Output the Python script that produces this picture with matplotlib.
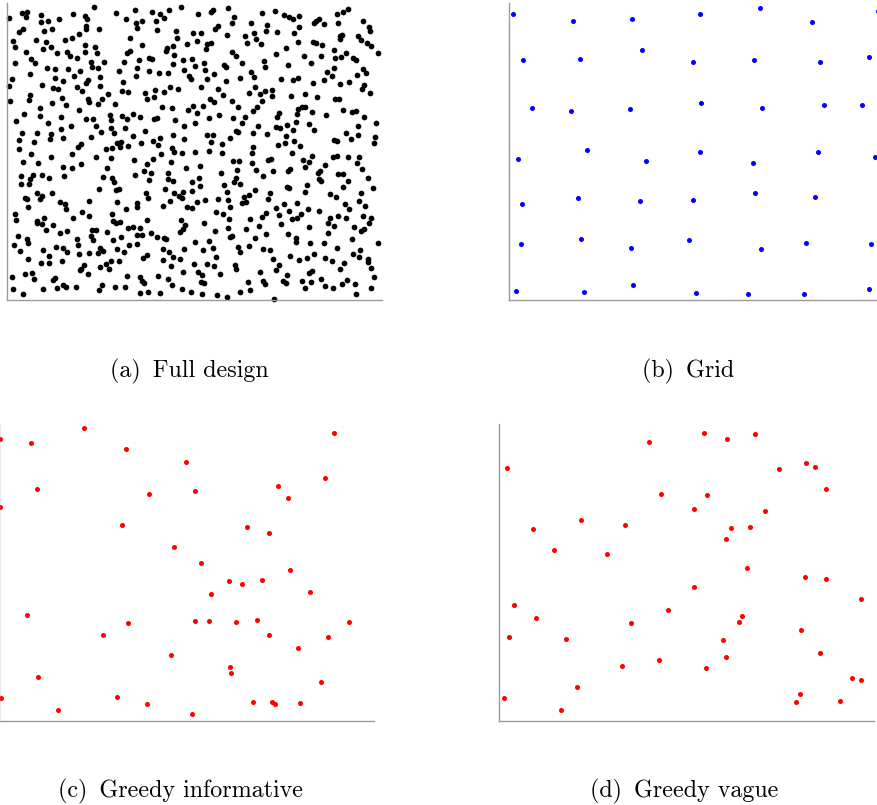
import numpy as np
import matplotlib.pyplot as plt

# Design points (x across 0..375, y up 0..297)
FULL_DESIGN = [
    (87, 293), (15, 287), (20, 288), (19, 283), (34, 285), (2, 282), (66, 286), (78, 284),
    (80, 281), (52, 281), (41, 279), (34, 278), (109, 287), (128, 290), (145, 288), (153, 286),
    (157, 282), (162, 290), (174, 293), (119, 281), (129, 277), (135, 279), (149, 279), (130, 272),
    (150, 270), (79, 274), (79, 271), (92, 271), (45, 271), (37, 269), (16, 271), (12, 268),
    (169, 269), (72, 266), (65, 262), (58, 260), (29, 260), (6, 259), (8, 253), (39, 258),
    (44, 253), (36, 251), (19, 248), (50, 247), (60, 248), (63, 244), (78, 255), (88, 253),
    (90, 247), (78, 248), (70, 242), (123, 262), (135, 255), (120, 247), (123, 249), (160, 252),
    (159, 249), (166, 254), (170, 262), (180, 256), (167, 245), (142, 242), (145, 241), (132, 240),
    (117, 238), (24, 241), (28, 237), (8, 237), (40, 232), (48, 231), (61, 231), (73, 229),
    (84, 238), (85, 233), (91, 232), (97, 238), (112, 229), (130, 232), (129, 224), (142, 229),
    (152, 227), (161, 227), (166, 236), (176, 240), (177, 230), (182, 224), (23, 226), (5, 221),
    (2, 214), (48, 222), (56, 219), (67, 224), (81, 220), (79, 217), (93, 223), (35, 215),
    (46, 212), (51, 211), (70, 213), (93, 214), (75, 209), (116, 218), (115, 209), (121, 208),
    (138, 207), (148, 210), (157, 208), (163, 213), (171, 211), (140, 201), (147, 203), (23, 205),
    (22, 200), (3, 199), (55, 202), (81, 201), (82, 198), (91, 196), (95, 201), (101, 206),
    (108, 196), (45, 197), (59, 195), (155, 193), (165, 192), (181, 190), (33, 192), (72, 190),
    (17, 186), (33, 184), (9, 179), (54, 183), (79, 181), (86, 181), (103, 185), (104, 180),
    (115, 184), (120, 181), (126, 186), (133, 183), (147, 181), (150, 182), (168, 180), (41, 177),
    (54, 171), (64, 174), (89, 174), (104, 172), (118, 172), (177, 174), (15, 167), (30, 167),
    (44, 166), (43, 161), (107, 167), (126, 164), (138, 169), (166, 165), (177, 161), (12, 160),
    (27, 158), (56, 162), (84, 163), (94, 168), (153, 162), (114, 158), (134, 157), (146, 159),
    (74, 156), (71, 153), (99, 151), (105, 152), (110, 157), (113, 153), (121, 154), (151, 155),
    (165, 152), (12, 151),
    (221, 292), (206, 290), (204, 288), (191, 286), (227, 283), (225, 277), (244, 277), (255, 287),
    (268, 289), (277, 285), (282, 283), (286, 281), (292, 284), (309, 279), (307, 277), (312, 281),
    (317, 276), (330, 286), (336, 288), (341, 291), (356, 279), (331, 277), (362, 273), (363, 269),
    (292, 273), (287, 267), (260, 275), (259, 269), (270, 268), (247, 267), (238, 264), (240, 257),
    (249, 261), (254, 256), (220, 265), (211, 274), (208, 271), (186, 267), (194, 267), (190, 259),
    (204, 257), (200, 256), (199, 251), (291, 258), (306, 258), (309, 257), (315, 255), (327, 250),
    (333, 264), (335, 265), (333, 261), (351, 264), (354, 260), (360, 257), (364, 254), (371, 247),
    (225, 248), (229, 244), (235, 237), (269, 246), (279, 252), (297, 244), (314, 244), (328, 242),
    (334, 243), (339, 247), (346, 242), (349, 240), (185, 241), (197, 237), (188, 234), (198, 230),
    (207, 226), (217, 235), (219, 233), (244, 228), (247, 223), (257, 239), (258, 233), (281, 235),
    (304, 237), (320, 228), (327, 232), (325, 224), (356, 231), (359, 227), (200, 221), (184, 221),
    (219, 219), (233, 222), (274, 221), (286, 220), (291, 222), (306, 217), (317, 220), (333, 216),
    (342, 218), (350, 225), (355, 211), (357, 215), (363, 207), (194, 213), (211, 211), (216, 205),
    (248, 213), (242, 207), (258, 209), (265, 210), (265, 204), (253, 206), (284, 204), (298, 206),
    (310, 203), (328, 201), (332, 201), (225, 199), (203, 201), (207, 198), (186, 194), (196, 194),
    (190, 187), (202, 182), (212, 185), (231, 193), (226, 182), (238, 183), (246, 189), (250, 193),
    (255, 199), (272, 187), (270, 183), (291, 191), (295, 193), (298, 193), (290, 186), (305, 188),
    (319, 185), (336, 190), (345, 188), (349, 189), (357, 183), (188, 177), (235, 177), (251, 174),
    (229, 169), (231, 168), (246, 167), (260, 166), (269, 173), (273, 172), (280, 175), (286, 170),
    (289, 178), (302, 176), (307, 170), (279, 164), (287, 159), (278, 157), (271, 155), (351, 174),
    (369, 177), (339, 167), (344, 161), (327, 160), (330, 159), (351, 165), (368, 163), (367, 157),
    (200, 165), (206, 165), (204, 158), (223, 162), (215, 156), (293, 154), (246, 153),
    (24, 146), (44, 143), (16, 138), (31, 137), (65, 146), (74, 136), (89, 143), (104, 142),
    (100, 132), (56, 133), (65, 132), (57, 124), (14, 124), (26, 125), (35, 125), (23, 121),
    (42, 122), (14, 116), (22, 116), (96, 123), (105, 122), (107, 118), (127, 140), (140, 136),
    (146, 141), (154, 146), (137, 129), (144, 127), (128, 125), (142, 120), (164, 138), (167, 148),
    (175, 147), (179, 132), (161, 127), (161, 121), (166, 119), (92, 111), (109, 110), (112, 111),
    (30, 107), (35, 104), (33, 101), (45, 107), (18, 102), (20, 101), (53, 98), (58, 96),
    (59, 91), (21, 93), (82, 99), (139, 107), (130, 97), (130, 93), (119, 91), (110, 98),
    (141, 102), (158, 111), (167, 107), (172, 104), (176, 108), (163, 99), (175, 102), (180, 93),
    (156, 94), (8, 86), (9, 80), (30, 79), (30, 77), (37, 82), (35, 76), (46, 75),
    (39, 70), (53, 67), (60, 69), (66, 82), (75, 88), (82, 84), (105, 86), (106, 79),
    (109, 77), (113, 78), (140, 80), (174, 80), (178, 75), (176, 71), (173, 68), (85, 70),
    (89, 70), (100, 68), (84, 64), (86, 60), (121, 72), (126, 73), (133, 72), (130, 65),
    (135, 65), (144, 67), (150, 63), (157, 62), (159, 61), (11, 64), (20, 61), (21, 57),
    (7, 55), (13, 49), (36, 50), (49, 53), (56, 52), (60, 48), (70, 61), (71, 55),
    (106, 60), (114, 63), (122, 55), (130, 56), (93, 52), (96, 49), (91, 47), (82, 47),
    (110, 51), (117, 48), (156, 51), (162, 48), (177, 51), (21, 41), (42, 44), (34, 37),
    (42, 37), (55, 39), (72, 46), (77, 35), (73, 30), (81, 26), (93, 33), (99, 36),
    (102, 31), (104, 39), (112, 39), (136, 42), (140, 45), (156, 40), (166, 43), (173, 41),
    (164, 34), (176, 28), (5, 23), (18, 26), (25, 27), (27, 21), (46, 20), (48, 22),
    (74, 31), (95, 15), (120, 24), (133, 23), (135, 19), (151, 24), (161, 21), (6, 11),
    (16, 6), (36, 11), (50, 12), (56, 15), (59, 13), (69, 13), (92, 10), (108, 13),
    (118, 13), (133, 7), (137, 17), (141, 8), (153, 7), (165, 15), (175, 11),
    (188, 148), (202, 149), (215, 147), (245, 147), (285, 147), (226, 139), (232, 139), (245, 137),
    (261, 140), (264, 141), (296, 140), (302, 138), (305, 144), (298, 133), (318, 135), (326, 143),
    (330, 144), (341, 143), (352, 143), (350, 137), (355, 131), (361, 122), (366, 112), (193, 134),
    (214, 127), (230, 130), (229, 122), (227, 118), (233, 116), (249, 130), (256, 124), (266, 129),
    (281, 129), (283, 131), (311, 127), (313, 129), (312, 121), (314, 119), (331, 126), (336, 126),
    (341, 119), (336, 113), (185, 118), (192, 122), (193, 114), (185, 109), (217, 115), (220, 108),
    (221, 100), (235, 97), (237, 103), (239, 98), (242, 105), (248, 110), (263, 107), (261, 101),
    (280, 113), (282, 112), (300, 115), (298, 108), (323, 106), (329, 103), (354, 107), (352, 99),
    (338, 96), (342, 91), (358, 94), (198, 100), (190, 98), (185, 92), (211, 101), (223, 93),
    (209, 88), (216, 86), (222, 81), (197, 77), (208, 69), (221, 72), (223, 63), (225, 64),
    (239, 71), (243, 81), (248, 62), (252, 74), (255, 83), (259, 87), (259, 66), (269, 92),
    (277, 96), (282, 89), (272, 85), (274, 76), (281, 66), (290, 97), (290, 82), (285, 81),
    (301, 91), (312, 89), (294, 86), (302, 73), (321, 77), (323, 82), (327, 74), (331, 84),
    (339, 82), (347, 73), (354, 69), (357, 71), (356, 84), (362, 77), (364, 82), (321, 67),
    (317, 57), (330, 52), (345, 61), (371, 57), (188, 58), (202, 59), (206, 52), (196, 50),
    (209, 43), (231, 53), (233, 48), (242, 54), (256, 51), (263, 50), (289, 62), (289, 58),
    (303, 57), (266, 41), (272, 35), (269, 30), (283, 44), (292, 40), (300, 42), (307, 46),
    (318, 42), (325, 39), (337, 37), (346, 46), (353, 50), (352, 43), (361, 41), (361, 38),
    (364, 32), (187, 36), (200, 36), (207, 34), (191, 28), (195, 25), (213, 26), (228, 35),
    (229, 31), (253, 28), (256, 19), (258, 16), (241, 18), (243, 10), (233, 8), (276, 19),
    (279, 17), (280, 25), (295, 19), (298, 12), (302, 27), (305, 29), (304, 18), (314, 21),
    (318, 14), (326, 12), (333, 31), (340, 20), (335, 16), (348, 16), (367, 23), (364, 12),
    (194, 18), (197, 17), (195, 6), (210, 5), (220, 3), (267, 1), (349, 6), (184, 8),
]

GRID = [
    (4, 286), (64, 279), (123, 281), (191, 286), (251, 292), (303, 278), (369, 289),
    (14, 240), (71, 241), (133, 250), (184, 238), (245, 240), (311, 238), (360, 243),
    (23, 192), (62, 189), (121, 191), (192, 197), (253, 192), (315, 195), (353, 195),
    (9, 141), (78, 150), (137, 139), (191, 148), (244, 137), (309, 148), (366, 143),
    (13, 96), (69, 102), (131, 99), (184, 100), (246, 107), (306, 103),
    (12, 56), (72, 61), (122, 52), (180, 60), (252, 51), (297, 57), (362, 56),
    (7, 9), (75, 8), (124, 15), (187, 7), (239, 6), (295, 6), (360, 11),
]

GREEDY_INFORMATIVE = [
    (1, 282), (32, 278), (85, 293), (127, 272), (187, 259), (335, 288), (38, 232), (1, 214),
    (150, 227), (196, 230), (279, 235), (289, 223), (326, 243), (123, 196), (248, 194), (270, 188),
    (175, 174), (202, 158), (230, 140), (243, 137), (263, 141), (291, 151), (212, 127), (311, 129),
    (28, 106), (129, 98), (196, 100), (210, 100), (237, 99), (258, 101), (350, 99), (104, 86),
    (270, 86), (329, 84), (299, 73), (172, 66), (231, 54), (232, 48), (39, 44), (322, 39),
    (2, 23), (118, 24), (59, 11), (148, 17), (193, 7), (254, 19), (273, 19), (276, 17),
    (301, 18),
]

GREEDY_VAGUE = [
    (205, 288), (228, 282), (256, 287), (150, 279), (8, 253), (280, 252), (307, 258), (316, 254),
    (327, 232), (162, 227), (208, 226), (195, 212), (266, 210), (82, 201), (34, 192), (126, 196),
    (232, 193), (251, 194), (227, 182), (55, 171), (108, 167), (248, 153), (306, 144), (327, 142),
    (195, 134), (362, 122), (15, 116), (169, 111), (37, 103), (243, 105), (240, 99), (132, 98),
    (10, 84), (67, 82), (302, 91), (224, 81), (227, 64), (321, 68), (160, 61), (123, 55),
    (207, 53), (353, 43), (362, 41), (78, 34), (301, 27), (297, 19), (341, 20), (5, 23),
    (62, 11),
]

LABELS = ['(a)', '(b)', '(c)', '(d)']
CAPTIONS = ['Full design', 'Grid', 'Greedy informative', 'Greedy vague']
COLORS = ['black', '#0000ff', '#ff0000', '#ff0000']
SIZES = [17, 13, 13, 13]

W, H = 878, 805
XMAX, YMAX = 375, 297

fig = plt.figure(figsize=(W / 100, H / 100), dpi=100)

# panel boxes in pixels: left, bottom (from top of image)
boxes = [(7, 300), (509, 300), (-1, 721), (499, 721)]
caption_xy = [(189.5, 377), (688, 377), (181, 797), (684, 797)]

datasets = [FULL_DESIGN, GRID, GREEDY_INFORMATIVE, GREEDY_VAGUE]

for pts, (left, bottom), color, size, lab, cap, (cx, cy) in zip(
        datasets, boxes, COLORS, SIZES, LABELS, CAPTIONS, caption_xy):
    ax = fig.add_axes([left / W, 1 - bottom / H, XMAX / W, YMAX / H])
    pts = np.array(pts)
    ax.scatter(pts[:, 0], pts[:, 1], s=size, c=color, linewidths=0, clip_on=False)
    ax.set_xlim(0, XMAX)
    ax.set_ylim(0, YMAX)
    ax.set_xticks([])
    ax.set_yticks([])
    for side in ('top', 'right'):
        ax.spines[side].set_visible(False)
    for side in ('left', 'bottom'):
        ax.spines[side].set_color('#9a9a9a')
        ax.spines[side].set_linewidth(1.0)
    ax.patch.set_alpha(0)

    # subcaption: label, a wider gap, then the caption text
    fig.text(cx / W, 1 - cy / H, lab + '\u2002' + cap, ha='center', va='baseline',
             fontsize=17.3, family=['cmr10', 'DejaVu Serif'])

fig.savefig('out.png', dpi=100)
